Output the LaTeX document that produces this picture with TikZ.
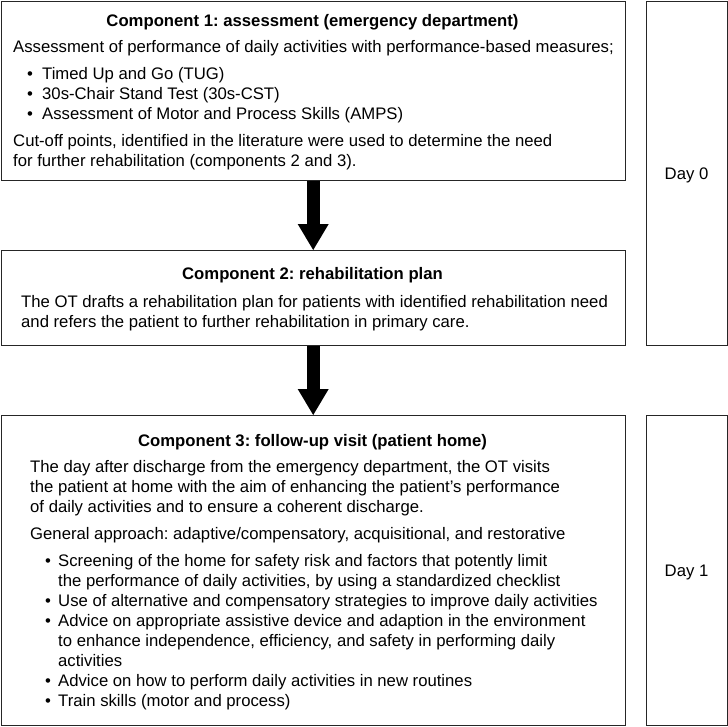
\documentclass[tikz,border=0pt]{standalone}
\usepackage{fontspec}
\setmainfont{Liberation Sans}
\usetikzlibrary{arrows.meta}
\frenchspacing
\begin{document}
\begin{tikzpicture}[x=1pt,y=-1pt,
  frame/.style={draw=black!85, line width=1.2pt, rectangle, inner sep=0pt, anchor=north west},
  txt/.style={anchor=base west, inner sep=0pt, font=\fontsize{16.7}{20}\selectfont},
  ttl/.style={anchor=base, inner sep=0pt, font=\fontsize{16.7}{20}\selectfont\bfseries},
  bul/.style={anchor=base, inner sep=0pt, font=\fontsize{16.7}{20}\selectfont},
  bigarrow/.style={line width=13pt, -{Triangle[width=31pt,length=26pt,line width=0pt]}}]
\useasboundingbox (0,0) rectangle (728,726);
% frames
\node[frame, minimum width=623.8pt, minimum height=179.4pt] (c1) at (0.7,0.7) {};
\node[frame, minimum width=623.8pt, minimum height=95pt] (c2) at (0.7,250) {};
\node[frame, minimum width=623.8pt, minimum height=310pt] (c3) at (0.7,415) {};
\node[frame, minimum width=81pt, minimum height=344.3pt] (d0) at (646,0.7) {};
\node[frame, minimum width=81pt, minimum height=310pt] (d1) at (646,415) {};
% arrows
\draw[bigarrow] (c1.south) -- (c2.north);
\draw[bigarrow] (c2.south) -- (c3.north);
% day labels
\node[bul] (d0t) at (686.5,179) {Day 0};
\node[bul] (d1t) at (686.5,576) {Day 1};
% component 1
\node[ttl] (t1) at (312.5,26) {Component 1: assessment (emergency department)};
\node[txt] (a1) at (13,52.7) {Assessment of performance of daily activities with performance-based measures;};
\node[bul] (b11) at (30,79.3) {\textbullet};
\node[bul] (b12) at (30,99.3) {\textbullet};
\node[bul] (b13) at (30,119.3) {\textbullet};
\node[txt] (a2) at (42,79.3) {Timed Up and Go (TUG)};
\node[txt] (a3) at (42,99.3) {30s-Chair Stand Test (30s-CST)};
\node[txt] (a4) at (42,119.3) {Assessment of Motor and Process Skills (AMPS)};
\node[txt] (a5) at (13,146) {Cut-off points, identified in the literature were used to determine the need};
\node[txt] (a6) at (13,166) {for further rehabilitation (components 2 and 3).};
% component 2
\node[ttl] (t2) at (312.5,279.5) {Component 2: rehabilitation plan};
\node[txt] (p1) at (21,307.5) {The OT drafts a rehabilitation plan for patients with identified rehabilitation need};
\node[txt] (p2) at (21,327.5) {and refers the patient to further rehabilitation in primary care.};
% component 3
\node[ttl] (t3) at (312.5,446) {Component 3: follow-up visit (patient home)};
\node[txt] (f1) at (30,472.7) {The day after discharge from the emergency department, the OT visits};
\node[txt] (f2) at (30,492.7) {the patient at home with the aim of enhancing the patient’s performance};
\node[txt] (f3) at (30,512.7) {of daily activities and to ensure a coherent discharge.};
\node[txt] (f4) at (30,539.3) {General approach: adaptive/compensatory, acquisitional, and restorative};
\node[bul] (b31) at (48,566) {\textbullet};
\node[bul] (b32) at (48,606) {\textbullet};
\node[bul] (b33) at (48,626) {\textbullet};
\node[bul] (b34) at (48,686) {\textbullet};
\node[bul] (b35) at (48,706) {\textbullet};
\node[txt] (g1) at (58,566) {Screening of the home for safety risk and factors that potently limit};
\node[txt] (g2) at (58,586) {the performance of daily activities, by using a standardized checklist};
\node[txt] (g3) at (58,606) {Use of alternative and compensatory strategies to improve daily activities};
\node[txt] (g4) at (58,626) {Advice on appropriate assistive device and adaption in the environment};
\node[txt] (g5) at (58,646) {to enhance independence, efficiency, and safety in performing daily};
\node[txt] (g6) at (58,666) {activities};
\node[txt] (g7) at (58,686) {Advice on how to perform daily activities in new routines};
\node[txt] (g8) at (58,706) {Train skills (motor and process)};
\end{tikzpicture}
\end{document}
